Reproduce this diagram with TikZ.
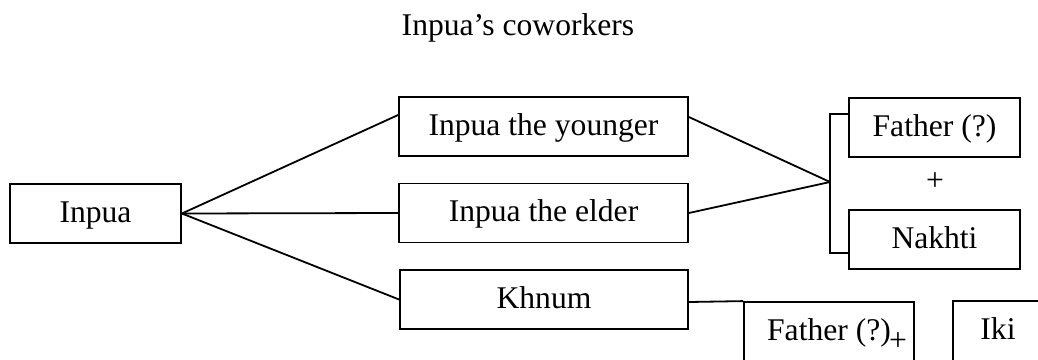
\documentclass[tikz,border=0pt]{standalone}
\usepackage{fontspec}
\setmainfont{Liberation Serif}
\tikzset{
  box/.style={draw=black, line width=1.8pt, inner xsep=0pt, inner ysep=16pt,
    text height=22pt, text depth=5pt, font=\fontsize{31.6pt}{38pt}\selectfont, anchor=base},
  openbox/.style={box, text depth=60pt},
  conn/.style={draw=black, line width=1.8pt},
  txt/.style={font=\fontsize{31.6pt}{38pt}\selectfont, inner sep=0pt}
}
\begin{document}
\begin{tikzpicture}[x=1pt,y=-1pt]
\useasboundingbox (0,0) rectangle (1038,359);
\begin{scope}
\clip (0,0) rectangle (1038,359);
\node[txt, anchor=base] (title) at (518,35) {Inpua’s coworkers};
\node[box, minimum width=171pt] (inpua) at (95.5,222) {Inpua};
\node[box, minimum width=289pt] (younger) at (543.5,135) {Inpua the younger};
\node[box, minimum width=289pt] (elder) at (543.5,221.5) {Inpua the elder};
\node[box, minimum width=288pt] (khnum) at (544,308) {Khnum};
\node[box, minimum width=171pt] (fa) at (934.5,136) {Father (?)};
\node[box, minimum width=171pt] (nakhti) at (934.5,248) {Nakhti};
\node[txt] (plus1) at (935,182) {+};
\node[openbox, minimum width=170pt] (fb) at (829,340) {Father (?)};
\node[txt] (plus2) at (898,342) {+};
\node[openbox, minimum width=90pt] (iki) at (998,339) {Iki};
\coordinate (j) at (830,182);
\draw[conn] (inpua.east) -- ([yshift=11.5pt]younger.west);
\draw[conn] (inpua.east) -- (elder.west);
\draw[conn] (inpua.east) -- (khnum.west);
\draw[conn] ([yshift=9.5pt]younger.east) -- (j);
\draw[conn] (elder.east) -- (j);
\draw[conn] ([yshift=13.5pt]fa.west) -| (j) |- ([yshift=-13.5pt]nakhti.west);
\draw[conn] ([yshift=-2.5pt]khnum.east) -- (fb.north west);
\end{scope}
\end{tikzpicture}
\end{document}
